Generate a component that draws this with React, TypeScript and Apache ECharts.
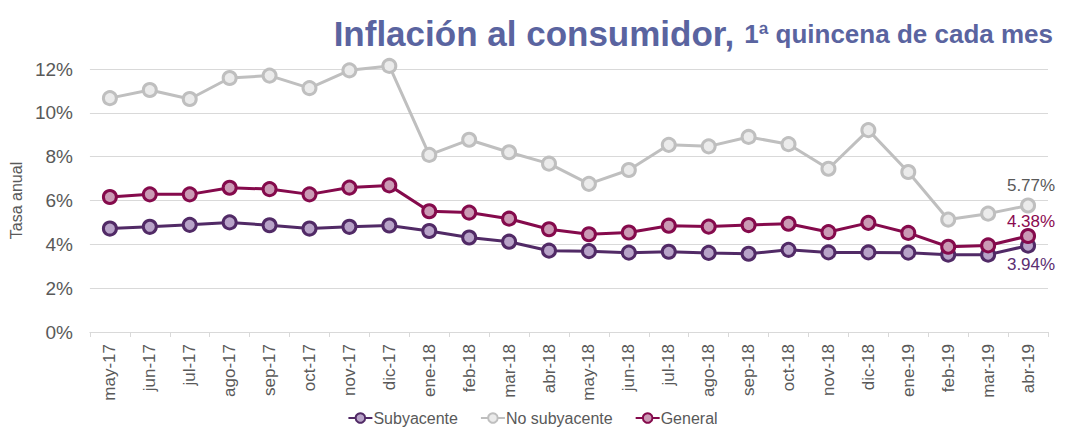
import React, { useEffect, useRef } from "react";
import * as echarts from "echarts";

const categories = [
  "may-17", "jun-17", "jul-17", "ago-17", "sep-17", "oct-17", "nov-17", "dic-17",
  "ene-18", "feb-18", "mar-18", "abr-18", "may-18", "jun-18", "jul-18", "ago-18",
  "sep-18", "oct-18", "nov-18", "dic-18", "ene-19", "feb-19", "mar-19", "abr-19",
];

const subyacente = [
  4.72, 4.80, 4.89, 5.00, 4.87, 4.72, 4.80, 4.86,
  4.61, 4.31, 4.12, 3.71, 3.69, 3.62, 3.66, 3.61,
  3.57, 3.75, 3.63, 3.63, 3.62, 3.53, 3.53, 3.94,
];

const noSubyacente = [
  10.67, 11.04, 10.63, 11.59, 11.70, 11.13, 11.94, 12.14,
  8.08, 8.77, 8.20, 7.68, 6.76, 7.39, 8.54, 8.47,
  8.90, 8.57, 7.45, 9.21, 7.30, 5.13, 5.40, 5.77,
];

const general = [
  6.16, 6.28, 6.28, 6.58, 6.52, 6.28, 6.59, 6.69,
  5.51, 5.45, 5.17, 4.69, 4.46, 4.54, 4.85, 4.81,
  4.88, 4.94, 4.56, 4.98, 4.52, 3.89, 3.95, 4.38,
];

const yTicks = [0, 2, 4, 6, 8, 10, 12];

const FONT = "Liberation Sans, Arial, sans-serif";

function withEndLabel(values: number[], color: string, position: string, offset: number[]) {
  return values.map((v, i) =>
    i === values.length - 1
      ? {
          value: v,
          label: {
            show: true,
            position,
            offset,
            color,
            fontSize: 17,
            fontFamily: FONT,
            formatter: (p: any) => p.value.toFixed(2) + "%",
          },
        }
      : v
  );
}

export default function App() {
  const ref = useRef<HTMLDivElement>(null);
  useEffect(() => {
    if (!ref.current) return;
    const chart = echarts.init(ref.current, undefined, { renderer: "svg" });
    const mk = (name: string, data: any[], line: string, fill: string) => ({
      name,
      type: "line",
      data,
      symbol: "circle",
      symbolSize: 13,
      clip: false,
      lineStyle: { color: line, width: 3 },
      itemStyle: { color: fill, borderColor: line, borderWidth: 3 },
      emphasis: { disabled: true },
      z: 2,
    });
    chart.setOption({
      animation: false,
      textStyle: { fontFamily: FONT },
      title: {
        text: "{a|Inflación al consumidor,}  {b|1ª quincena de cada mes}",
        right: 7,
        top: 11,
        textStyle: {
          rich: {
            a: { fontSize: 35, fontWeight: "bold", color: "#5a64a0", fontFamily: FONT },
            b: { fontSize: 26, fontWeight: "bold", color: "#5a64a0", fontFamily: FONT },
          },
        },
      },
      grid: { left: 87, right: 17, top: 69, bottom: 95 },
      legend: {
        top: 405,
        left: "center",
        itemWidth: 24,
        itemHeight: 12,
        itemGap: 22,
        textStyle: { fontSize: 16, color: "#595959", fontFamily: FONT, padding: [0, 0, 0, -4] },
        data: ["Subyacente", "No subyacente", "General"],
      },
      xAxis: {
        type: "category",
        data: categories,
        boundaryGap: true,
        axisLine: { lineStyle: { color: "#d9d9d9", width: 1 } },
        axisTick: { show: true, length: 5, lineStyle: { color: "#d9d9d9" } },
        axisLabel: { rotate: 90, fontSize: 17, color: "#595959", margin: 12, fontFamily: FONT },
      },
      yAxis: {
        type: "value",
        min: 0,
        max: 12,
        interval: 2,
        name: "Tasa anual",
        nameLocation: "middle",
        nameRotate: 90,
        nameGap: 57,
        nameTextStyle: { fontSize: 16, color: "#595959", fontFamily: FONT },
        axisLine: { show: false },
        axisTick: { show: false },
        splitLine: { lineStyle: { color: "#d9d9d9", width: 1 } },
        axisLabel: {
          fontSize: 19,
          color: "#595959",
          margin: 17,
          fontFamily: FONT,
          formatter: (v: number) => (yTicks.includes(v) ? v + "%" : ""),
        },
      },
      series: [
        mk("Subyacente", withEndLabel(subyacente, "#5b2d71", "bottom", [3, -3]), "#512a66", "#b8a3c8"),
        mk("No subyacente", withEndLabel(noSubyacente, "#595959", "top", [3, 1]), "#bfbfbf", "#ebebeb"),
        mk("General", withEndLabel(general, "#8b0a50", "top", [3, 7]), "#850a4c", "#cb9ab5"),
      ],
    });
    return () => chart.dispose();
  }, []);
  return (
    <div
      ref={ref}
      style={{ position: "absolute", left: 0, top: 0, width: 1065, height: 427 }}
    />
  );
}
